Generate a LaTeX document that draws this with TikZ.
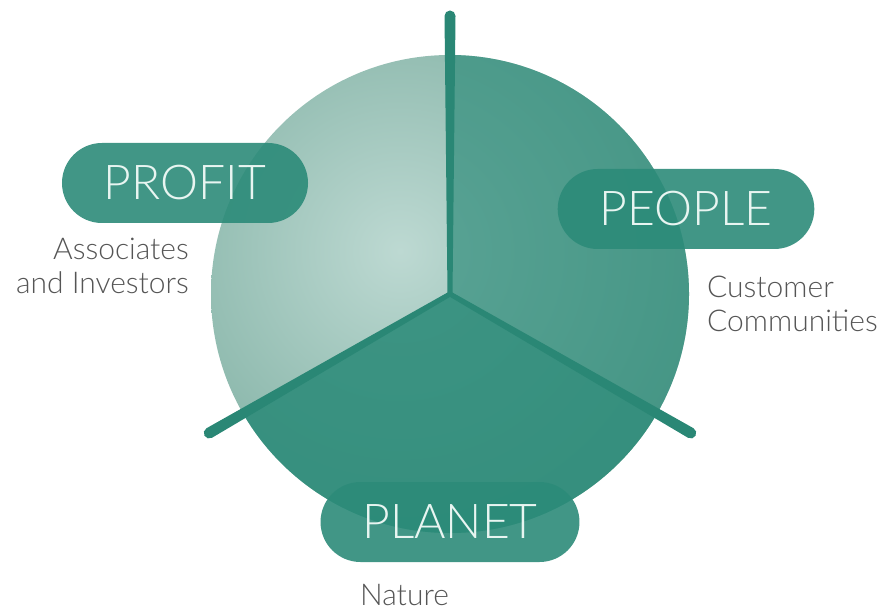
\documentclass[tikz,border=0pt]{standalone}
\usepackage{fontspec}
\setmainfont{Lato}
\IfFontExistsTF{Lato Light}{\newfontfamily\pillfont{Lato Light}}{\newfontfamily\pillfont{Lato}}
\usetikzlibrary{shapes.misc,positioning}
\definecolor{tealpill}{HTML}{2C8B79}
\definecolor{spokecol}{HTML}{2A8775}
\definecolor{lightcol}{HTML}{BDD9D2}
\definecolor{edgecol}{HTML}{6FA596}
\definecolor{subgray}{HTML}{555555}
\definecolor{pilltext}{HTML}{E8F5F1}
\tikzset{
  pill/.style={rounded rectangle, fill=tealpill, fill opacity=0.9, text opacity=1,
    text=pilltext, font=\pillfont\fontsize{48}{58}\selectfont,
    minimum height=80pt, inner xsep=38pt, inner ysep=0pt},
  sublabel/.style={text=subgray, font=\pillfont\fontsize{30}{34}\selectfont, inner sep=0pt}
}
\begin{document}
\begin{tikzpicture}[x=1pt,y=1pt]
  \useasboundingbox (0,0) rectangle (885,611);
  \coordinate (hub) at (450,317);
  % sphere with its three sectors
  \begin{scope}
    \clip (hub) circle (239);
    \shade[inner color=lightcol, outer color=edgecol] (400,360) circle (380);
    \begin{scope}[shift={(hub)}]
      \fill[tealpill, opacity=0.68] (0,0) -- (90:250) arc (90:-30:250) -- cycle;
      \fill[tealpill, opacity=0.88] (0,0) -- (210:250) arc (210:330:250) -- cycle;
    \end{scope}
  \end{scope}
  % spokes
  \begin{scope}[shift={(hub)}]
    \foreach \a in {90,210,330}
      \fill[spokecol, rotate=\a] (0,-2.5) -- (278,-5.5) arc (-90:90:5.5) -- (0,2.5) -- cycle;
  \end{scope}
  % labels
  \node[pill] (profit) at (185,428) {PROFIT};
  \node[pill] (people) at (686,402) {PEOPLE};
  \node[pill] (planet) at (450,89) {PLANET};
  \node[sublabel, anchor=north east, align=right] (profitsub)
    at ([xshift=4pt,yshift=-15pt]profit.south) {Associates\\and Investors};
  \node[sublabel, anchor=north west, align=left] (peoplesub)
    at ([xshift=21pt,yshift=-27pt]people.south) {Customer\\Communities};
  \node[sublabel, anchor=north west] (planetsub)
    at ([xshift=-90pt,yshift=-22pt]planet.south) {Nature};
\end{tikzpicture}
\end{document}
